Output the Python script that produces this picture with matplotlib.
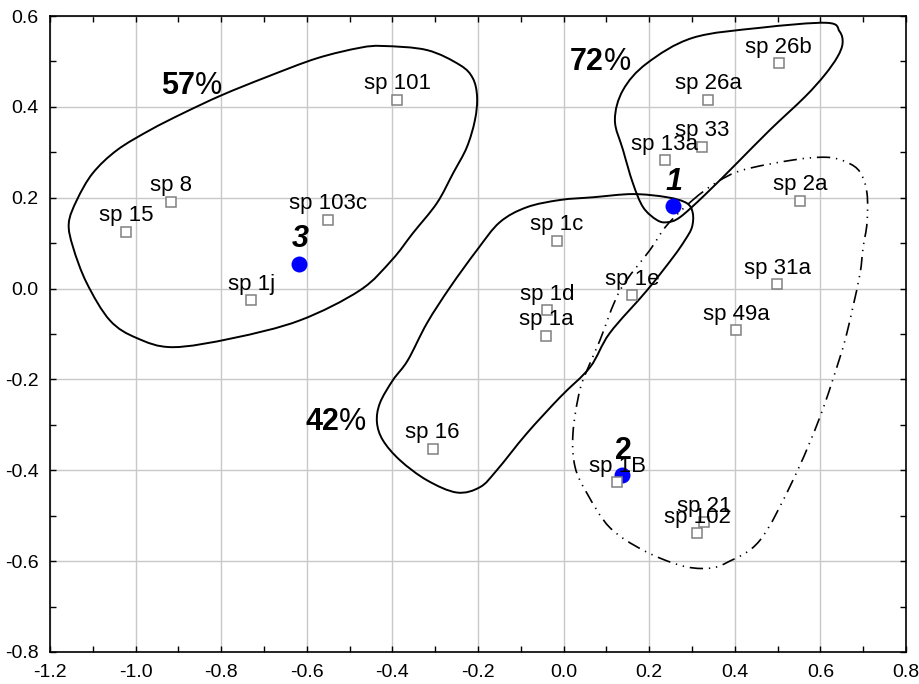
import matplotlib
matplotlib.use("Agg")
import matplotlib.pyplot as plt
import numpy as np
from matplotlib.path import Path
from matplotlib.patches import PathPatch

plt.rcParams['font.family'] = ['Liberation Sans', 'DejaVu Sans']

# species scores
sp_names = ['sp 15', 'sp 8', 'sp 1j', 'sp 103c', 'sp 101', 'sp 16', 'sp 1c', 'sp 1d',
            'sp 1a', 'sp 1e', 'sp 13a', 'sp 33', 'sp 26a', 'sp 26b', 'sp 2a', 'sp 31a',
            'sp 49a', 'sp 1B', 'sp 21', 'sp 102']
sp_x = [-1.022, -0.917, -0.730, -0.550, -0.388, -0.306, -0.015, -0.039,
        -0.040, 0.161, 0.237, 0.324, 0.338, 0.503, 0.552, 0.499,
        0.404, 0.126, 0.329, 0.312]
sp_y = [0.125, 0.191, -0.026, 0.152, 0.415, -0.353, 0.105, -0.048,
        -0.104, -0.015, 0.282, 0.312, 0.416, 0.496, 0.193, 0.009,
        -0.092, -0.426, -0.514, -0.539]

# group centroids
cen_names = ['1', '2', '3']
cen_x = [0.255, 0.136, -0.618]
cen_y = [0.181, -0.411, 0.055]

# group outlines (traced)
grpA_x = [-1.156, -1.137, -1.100, -1.043, -0.966, -0.889, -0.798, -0.693, -0.576, -0.476,
          -0.422, -0.319, -0.242, -0.212, -0.202, -0.207, -0.226, -0.258, -0.296, -0.352,
          -0.401, -0.476, -0.616, -0.772, -0.913, -0.997, -1.060, -1.114, -1.146]
grpA_y = [0.144, 0.195, 0.254, 0.305, 0.349, 0.386, 0.426, 0.466, 0.507, 0.530,
          0.534, 0.525, 0.492, 0.463, 0.422, 0.371, 0.311, 0.254, 0.188, 0.122,
          0.063, -0.004, -0.070, -0.109, -0.129, -0.109, -0.070, 0.012, 0.091]
grpB_x = [0.242, 0.218, 0.186, 0.162, 0.139, 0.120, 0.139, 0.195, 0.302, 0.459,
          0.615, 0.645, 0.652, 0.640, 0.610, 0.564, 0.482, 0.405, 0.330, 0.272]
grpB_y = [0.146, 0.151, 0.179, 0.232, 0.305, 0.371, 0.437, 0.496, 0.552, 0.574,
          0.585, 0.566, 0.540, 0.510, 0.470, 0.422, 0.349, 0.276, 0.206, 0.157]
grpC_x = [-0.436, -0.429, -0.399, -0.364, -0.319, -0.265, -0.202, -0.149, -0.086, -0.008,
          0.069, 0.162, 0.242, 0.288, 0.302, 0.300, 0.284, 0.256, 0.195, 0.108,
          0.062, -0.008, -0.086, -0.156, -0.195, -0.249, -0.319, -0.382, -0.422]
grpC_y = [-0.294, -0.252, -0.202, -0.158, -0.076, 0.003, 0.085, 0.146, 0.179, 0.195,
          0.201, 0.208, 0.201, 0.188, 0.166, 0.135, 0.107, 0.069, -0.004, -0.098,
          -0.173, -0.239, -0.319, -0.400, -0.437, -0.449, -0.422, -0.378, -0.334]
grpD_x = [0.302, 0.358, 0.419, 0.536, 0.615, 0.662, 0.693, 0.709, 0.709, 0.700,
          0.693, 0.676, 0.662, 0.646, 0.599, 0.536, 0.459, 0.382, 0.335, 0.272,
          0.186, 0.108, 0.055, 0.027, 0.022, 0.038, 0.062, 0.085, 0.132, 0.202, 0.242]
grpD_y = [0.195, 0.234, 0.261, 0.283, 0.289, 0.278, 0.256, 0.210, 0.144, 0.091,
          0.034, -0.041, -0.098, -0.151, -0.283, -0.422, -0.554, -0.603, -0.616, -0.609,
          -0.576, -0.526, -0.451, -0.393, -0.319, -0.224, -0.164, -0.114, -0.004, 0.085, 0.140]

# similarity labels
pct_text = ['57', '72', '42']
pct_x = [-0.941, 0.015, -0.604]
pct_y = [0.428, 0.481, -0.312]

xticks = [-1.2, -1.0, -0.8, -0.6, -0.4, -0.2, 0.0, 0.2, 0.4, 0.6, 0.8]
yticks = [-0.8, -0.6, -0.4, -0.2, 0.0, 0.2, 0.4, 0.6]


def outline(ax, xs, ys, **kw):
    # closed smooth curve through the traced points (catmull-rom -> bezier)
    pts = np.column_stack([xs, ys])
    n = len(pts)
    verts = [pts[0]]
    codes = [Path.MOVETO]
    for i in range(n):
        p0, p1, p2, p3 = pts[i - 1], pts[i], pts[(i + 1) % n], pts[(i + 2) % n]
        verts += [p1 + (p2 - p0) / 6, p2 - (p3 - p1) / 6, p2]
        codes += [Path.CURVE4] * 3
    ax.add_patch(PathPatch(Path(verts, codes), fill=False, **kw))


fig = plt.figure(figsize=(9.2, 6.84), dpi=100)
ax = fig.add_axes([0.0543, 0.0468, 0.9304, 0.9298])

outline(ax, grpA_x, grpA_y, ec='black', lw=1.4, zorder=3)
outline(ax, grpB_x, grpB_y, ec='black', lw=1.4, zorder=3)
outline(ax, grpC_x, grpC_y, ec='black', lw=1.4, zorder=3)
outline(ax, grpD_x, grpD_y, ec='black', lw=1.2, zorder=3,
        linestyle=(0, (8, 3.5, 0.8, 3.5, 0.8, 3.5)))

ax.plot(cen_x, cen_y, 'o', color='#0000ff', ms=11.5, mec='none', zorder=4)
ax.plot(sp_x, sp_y, 's', mfc='white', mec='#808080', ms=6.5, mew=1.1, zorder=5)

for name, x, y in zip(sp_names, sp_x, sp_y):
    ax.annotate(name, (x, y), xytext=(0, 4), textcoords='offset points',
                ha='center', va='bottom', fontsize=16, zorder=6)

for name, x, y in zip(cen_names, cen_x, cen_y):
    ax.annotate(name, (x, y), xytext=(1, 12), textcoords='offset points',
                ha='center', va='baseline', fontsize=22, fontweight='bold',
                fontstyle='normal' if name == '2' else 'italic', zorder=6)

for t, x, y in zip(pct_text, pct_x, pct_y):
    num = ax.text(x, y, t, fontsize=22, fontweight='bold', ha='left', va='baseline', zorder=6)
    ax.annotate('%', xy=(1, 0), xycoords=num, ha='left', va='bottom', fontsize=22, zorder=6)

ax.set_xlim(-1.2, 0.8)
ax.set_ylim(-0.8, 0.6)
ax.set_xticks(xticks)
ax.set_yticks(yticks)
ax.set_xticklabels(['%.1f' % v for v in xticks])
ax.set_yticklabels(['%.1f' % v for v in yticks])
ax.set_xticks(np.arange(-1.1, 0.8, 0.2), minor=True)
ax.set_yticks(np.arange(-0.7, 0.6, 0.2), minor=True)
ax.tick_params(which='both', direction='in', top=True, right=True, length=4, width=1,
               labelsize=14)
ax.tick_params(axis='x', pad=9)
ax.tick_params(axis='y', pad=8)
ax.grid(True, which='major', color='#c8c8c8', lw=1)
ax.set_axisbelow(True)
for s in ax.spines.values():
    s.set_linewidth(1.2)

fig.savefig('out.png', dpi=100)
